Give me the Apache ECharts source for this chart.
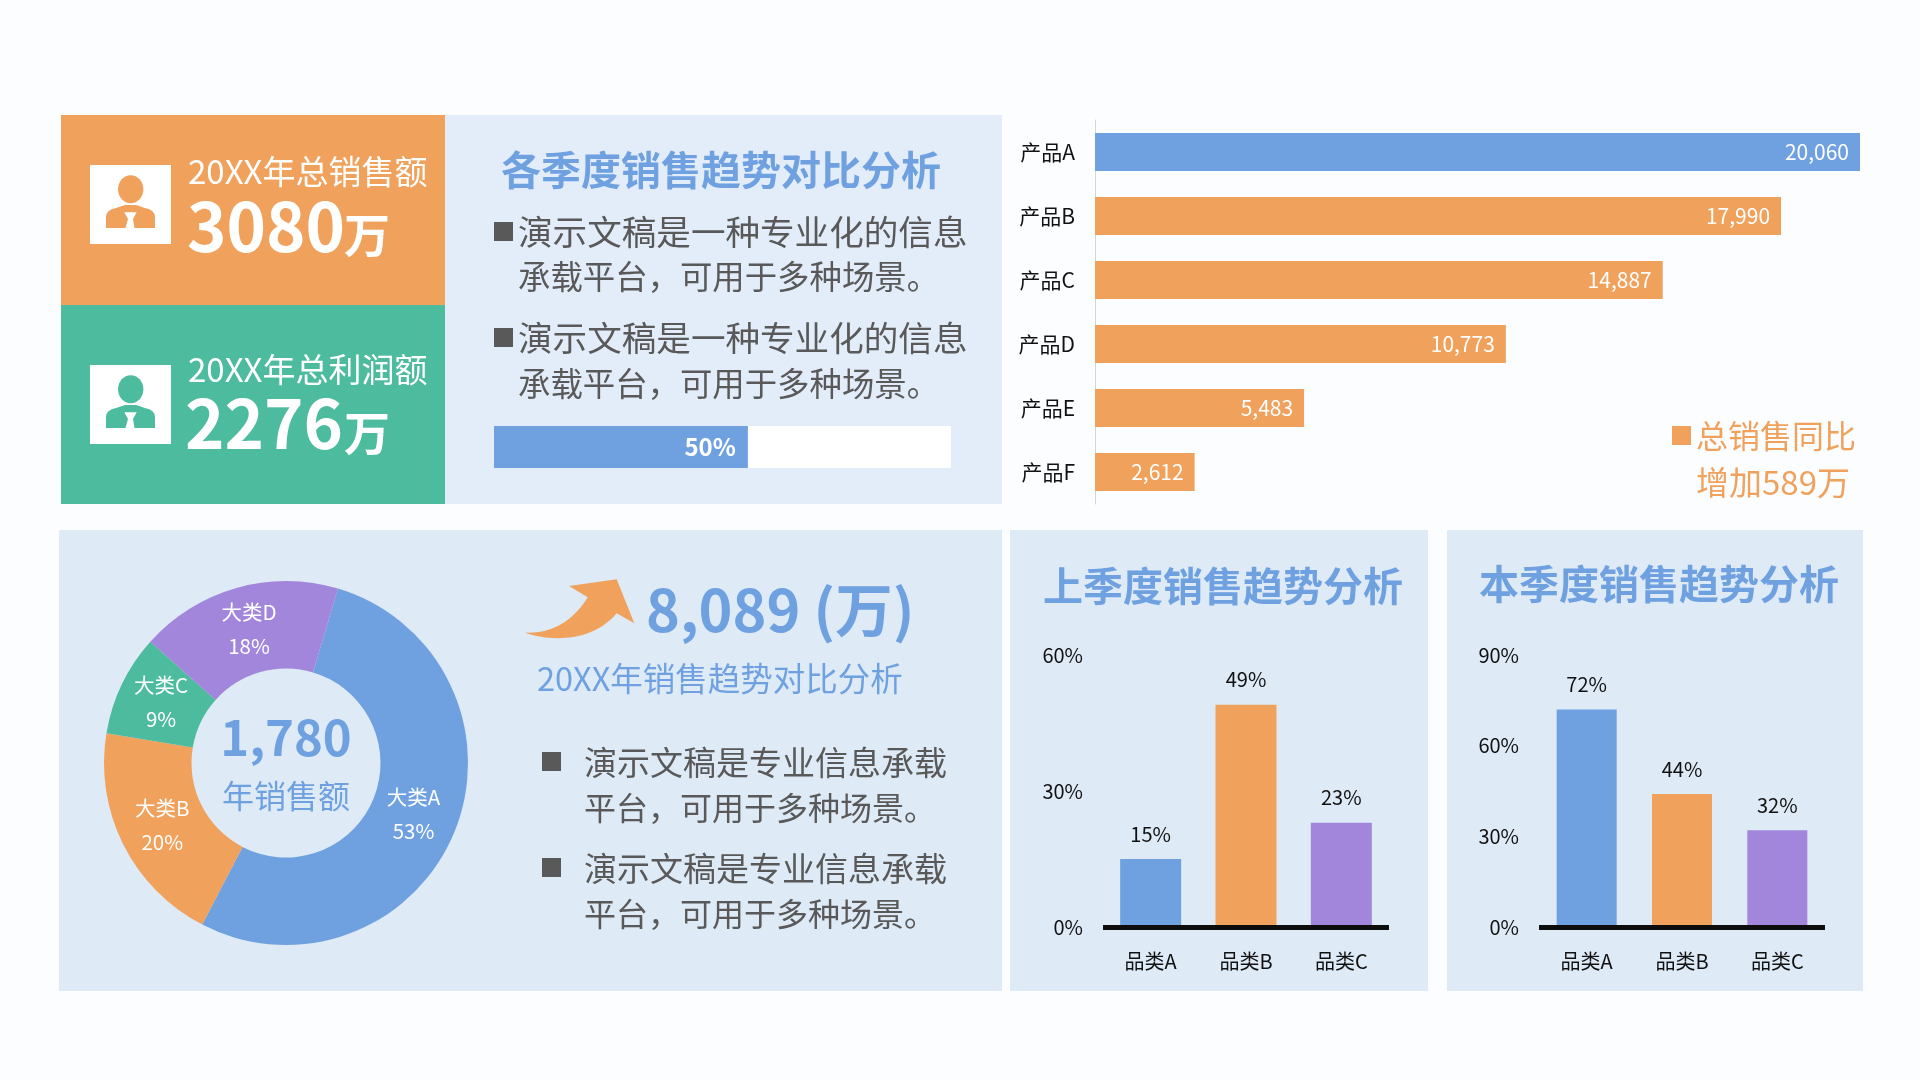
<!DOCTYPE html>
<html lang="zh">
<head>
<meta charset="utf-8">
<title>销售趋势分析</title>
<script src="https://cdn.jsdelivr.net/npm/echarts@6/dist/echarts.min.js"></script>
<style>
  html, body { margin: 0; padding: 0; background: #fbfdff; }
  #main { width: 1920px; height: 1080px; }
</style>
</head>
<body>
<div id="main"></div>
<script>
// 数据
const productNames = ['产品A', '产品B', '产品C', '产品D', '产品E', '产品F'];
const productSales = [20060, 17990, 14887, 10773, 5483, 2612];
const pieNames = ['大类A', '大类B', '大类C', '大类D'];
const pieShares = [53, 20, 9, 18];
const classNames = ['品类A', '品类B', '品类C'];
const lastQuarter = [15, 49, 23];
const thisQuarter = [72, 44, 32];
const progressValue = [50];

const BLUE = '#6fa1e1';
const ORANGE = '#f0a15c';
const GREEN = '#4dbb9e';
const PURPLE = '#a186db';
const GRAY = '#595959';
const FONT = '"Noto Sans CJK SC", "Noto Sans", sans-serif';

// 自定义形状
echarts.graphic.registerShape('personBody', echarts.graphic.extendPath(
  'M16 63 L16 52 Q16 45 26 43 L35 40 L46 40 L55 43 Q65 45 65 52 L65 63 Z', {}));
echarts.graphic.registerShape('upArrow', echarts.graphic.extendPath(
  'M616.7 579.3 L569 586 L587.7 597.3 C575 618 555 634 525 632.7 C545 640 590 645 616.7 613.3 L634.3 623.3 Z', {}));

const myChart = echarts.init(document.getElementById('main'), null, { renderer: 'canvas' });

function rect(x, y, width, height, fill, z) {
  return { type: 'rect', z: z === undefined ? -10 : z, silent: true, shape: { x, y, width, height }, style: { fill } };
}

function label(x, y, text, fontSize, fill, bold) {
  return {
    type: 'text', z: 100, silent: true, x, y,
    style: {
      text, fill, fontSize, fontFamily: FONT, fontWeight: bold ? 'bold' : 'normal',
      align: 'left', verticalAlign: 'middle', textAlign: 'left', textVerticalAlign: 'middle'
    }
  };
}

function centerLabel(x, y, text, fontSize, fill, bold) {
  const el = label(x, y, text, fontSize, fill, bold);
  el.style.align = el.style.textAlign = 'center';
  return el;
}

// 头像图标
function personIcon(x, y, color) {
  return {
    type: 'group', x, y, z: 50, silent: true,
    children: [
      { type: 'rect', z: 50, shape: { x: 0, y: 0, width: 81, height: 79 }, style: { fill: '#fff' } },
      { type: 'ellipse', z: 51, shape: { cx: 40.7, cy: 24.3, rx: 12.7, ry: 14 }, style: { fill: color } },
      { type: 'personBody', z: 51, style: { fill: color } },
      {
        type: 'polygon', z: 52,
        shape: { points: [[34.3, 47.3], [46.7, 47.3], [43, 54], [44.5, 63], [35.5, 63], [38, 54]] },
        style: { fill: '#fff' }
      }
    ]
  };
}

const graphicElements = [
  // 背景面板
  rect(61, 115, 384, 190, ORANGE),
  rect(61, 305, 384, 199, GREEN),
  rect(445, 115, 557, 389, '#e3edf9'),
  rect(59, 530, 943, 461, '#deeaf6'),
  rect(1010, 530, 418, 461, '#deeaf6'),
  rect(1447, 530, 416, 461, '#deeaf6'),

  // 左上角指标
  personIcon(90, 165, ORANGE),
  personIcon(90, 365, GREEN),
  label(188, 171, '20XX年总销售额', 33, '#fff'),
  label(187, 227, '3080', 67, '#fff', true),
  label(344, 235, '万', 46, '#fff', true),
  label(188, 369, '20XX年总利润额', 33, '#fff'),
  label(185, 424, '2276', 67, '#fff', true),
  label(344, 433, '万', 46, '#fff', true),

  // 各季度说明
  label(501, 170, '各季度销售趋势对比分析', 40, BLUE, true),
  rect(494, 222, 19, 19, GRAY, 100),
  label(518, 232, '演示文稿是一种专业化的信息', 34.6, GRAY),
  label(518, 277, '承载平台，可用于多种场景。', 32.4, GRAY),
  rect(494, 328, 19, 19, GRAY, 100),
  label(518, 338, '演示文稿是一种专业化的信息', 34.6, GRAY),
  label(518, 384, '承载平台，可用于多种场景。', 32.4, GRAY),

  // 同比
  rect(1672, 426, 19, 19, ORANGE, 100),
  label(1696, 436, '总销售同比', 32, ORANGE),
  label(1696, 482, '增加589万', 33, ORANGE),

  // 圆环中心
  centerLabel(286, 737, '1,780', 49, BLUE, true),
  centerLabel(286, 796, '年销售额', 32, BLUE),

  // 箭头
  { type: 'upArrow', z: 50, silent: true, style: { fill: ORANGE } },
  label(646, 610, '8,089 (万)', 57.5, BLUE, true),
  label(537, 679, '20XX年销售趋势对比分析', 32.5, BLUE),
  rect(542, 752, 19, 19, GRAY, 100),
  label(584, 762, '演示文稿是专业信息承载', 33, GRAY),
  label(584, 808, '平台，可用于多种场景。', 32, GRAY),
  rect(542, 858, 19, 19, GRAY, 100),
  label(584, 868, '演示文稿是专业信息承载', 33, GRAY),
  label(584, 914, '平台，可用于多种场景。', 32, GRAY),

  // 柱状图标题
  label(1043, 586, '上季度销售趋势分析', 40, BLUE, true),
  label(1479, 584, '本季度销售趋势分析', 40, BLUE, true)
];

const hidden = { show: false };
// 饼图标签微调
const pieLabelShift = [[-3.5, -2], [2.5, -1], [2.5, 0], [1.5, 2.5]];

function columnXAxis(gridIndex) {
  return {
    type: 'category', gridIndex, data: classNames, z: 5,
    axisLine: { show: true, lineStyle: { color: '#0d0d0d', width: 5, cap: 'butt' } },
    axisTick: hidden,
    axisLabel: { color: '#111', fontSize: 20, fontFamily: FONT, margin: 24 }
  };
}

function columnYAxis(gridIndex, max) {
  return {
    type: 'value', gridIndex, min: 0, max, interval: 30,
    axisLine: hidden, axisTick: hidden, splitLine: hidden,
    axisLabel: {
      color: '#111', fontSize: 20, fontFamily: FONT, margin: 20,
      padding: [0, 0, 2, 0], formatter: '{value}%'
    }
  };
}

function columnSeries(axisIndex, data, barWidth) {
  return {
    type: 'bar', xAxisIndex: axisIndex, yAxisIndex: axisIndex, data, barWidth,
    itemStyle: { color: (p) => [BLUE, ORANGE, PURPLE][p.dataIndex] },
    label: {
      show: true, position: 'top', distance: 15, color: '#111',
      fontSize: 20, fontFamily: FONT, formatter: '{c}%'
    }
  };
}

const option = {
  animation: false,
  backgroundColor: '#fbfdff',
  textStyle: { fontFamily: FONT },
  graphic: { elements: graphicElements },
  grid: [
    { left: 1095, top: 120, width: 765, height: 384 },
    { left: 494, top: 426, width: 457, height: 42 },
    { left: 1103, top: 655, width: 286, height: 272 },
    { left: 1539, top: 655, width: 286, height: 272 }
  ],
  xAxis: [
    { type: 'value', gridIndex: 0, min: 0, max: 20060, show: false },
    { type: 'value', gridIndex: 1, min: 0, max: 90, show: false },
    columnXAxis(2),
    columnXAxis(3)
  ],
  yAxis: [
    {
      type: 'category', gridIndex: 0, data: productNames, inverse: true,
      axisLine: { show: true, lineStyle: { color: '#d3d7db', width: 1 } },
      axisTick: hidden,
      axisLabel: { color: '#111', fontSize: 21, fontFamily: FONT, margin: 20, padding: [0, 0, 2, 0] }
    },
    { type: 'category', gridIndex: 1, data: ['进度'], show: false },
    columnYAxis(2, 60),
    columnYAxis(3, 90)
  ],
  series: [
    {
      type: 'bar', xAxisIndex: 0, yAxisIndex: 0, data: productSales, barWidth: 38,
      itemStyle: { color: (p) => (p.dataIndex === 0 ? BLUE : ORANGE) },
      label: {
        show: true, position: 'insideRight', distance: 11, color: '#fff',
        fontSize: 21, fontFamily: FONT,
        formatter: (p) => p.value.toLocaleString('en-US')
      }
    },
    {
      type: 'bar', xAxisIndex: 1, yAxisIndex: 1, data: progressValue, barWidth: 42,
      itemStyle: { color: BLUE },
      showBackground: true,
      backgroundStyle: { color: '#fff', opacity: 1 },
      label: {
        show: true, position: 'insideRight', distance: 12, color: '#fff',
        fontSize: 24, fontWeight: 'bold', fontFamily: FONT, formatter: '{c}%'
      }
    },
    columnSeries(2, lastQuarter, 61),
    columnSeries(3, thisQuarter, 60),
    {
      type: 'pie',
      center: [286, 763],
      radius: [94.5, 182],
      startAngle: 73.4,
      clockwise: true,
      data: pieNames.map((name, i) => ({ name, value: pieShares[i] })),
      color: [BLUE, ORANGE, GREEN, PURPLE],
      labelLine: hidden,
      labelLayout: (p) => ({ dx: pieLabelShift[p.dataIndex][0], dy: pieLabelShift[p.dataIndex][1] }),
      label: {
        show: true, position: 'inside', color: '#fff', fontSize: 20.5,
        fontFamily: FONT, lineHeight: 34, formatter: '{b}\n{d}%'
      }
    }
  ]
};

myChart.setOption(option);
window.addEventListener('resize', myChart.resize, { passive: true });
</script>
</body>
</html>
